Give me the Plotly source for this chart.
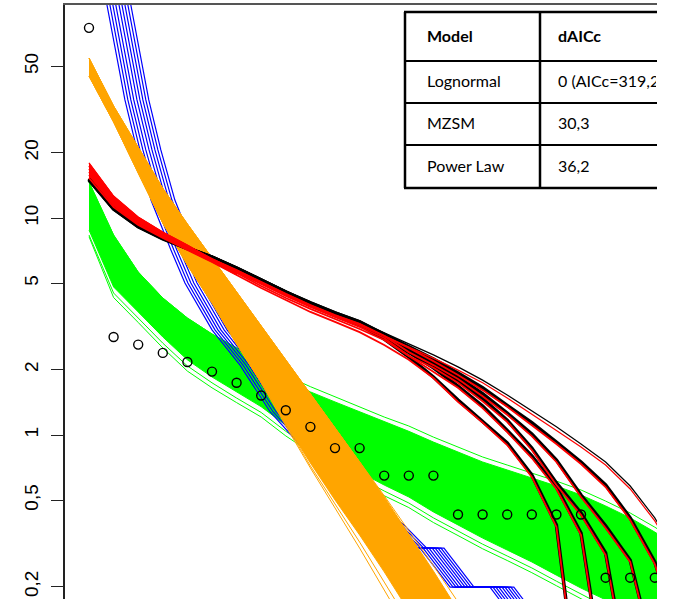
import plotly.graph_objects as go

ranks = list(range(1, 26))

# observed relative abundance (%) by rank
observed = [75.22, 2.83, 2.61, 2.39, 2.17, 1.96, 1.74, 1.52, 1.30, 1.09,
            0.87, 0.87, 0.65, 0.65, 0.65, 0.43, 0.43, 0.43, 0.43, 0.43,
            0.43, 0.22, 0.22, 0.22, 0.22]

# simulated rank-abundance runs (black / red pairs)
black_thin = [15.1, 11.1, 9.19, 8.09, 7.27, 6.61, 5.88, 5.18, 4.56, 4.06, 3.65, 3.32,
              2.95, 2.63, 2.34, 2.06, 1.79, 1.53, 1.29, 1.09, 0.909, 0.751, 0.582, 0.415, 0.265]
black_1 = [15.1, 11.1, 9.19, 8.09, 7.27, 6.61, 5.88, 5.18, 4.56, 4.06, 3.65, 3.32,
           2.92, 2.57, 2.24, 1.93, 1.65, 1.37, 1.14, 0.928, 0.751, 0.588, 0.415, 0.260, 0.114]
black_2 = [15.1, 11.1, 9.19, 8.09, 7.27, 6.61, 5.88, 5.18, 4.56, 4.06, 3.65, 3.32,
           2.89, 2.52, 2.17, 1.85, 1.55, 1.26, 1.01, 0.767, 0.529, 0.381, 0.265, 0.092]
black_3 = [15.0, 11.0, 9.15, 8.05, 7.25, 6.58, 5.85, 5.15, 4.53, 4.03, 3.62, 3.29,
           2.86, 2.46, 2.10, 1.77, 1.47, 1.17, 0.871, 0.601, 0.437, 0.286, 0.067]
black_4 = [15.2, 11.2, 9.22, 8.10, 7.28, 6.60, 5.86, 5.16, 4.53, 4.02, 3.60, 3.27,
           2.83, 2.41, 2.04, 1.68, 1.36, 1.05, 0.800, 0.576, 0.353, 0.067]
black_5 = [15.0, 11.0, 9.12, 8.02, 7.22, 6.55, 5.82, 5.10, 4.48, 3.97, 3.55, 3.21,
           2.77, 2.29, 1.85, 1.45, 1.16, 0.919, 0.654, 0.385, 0.049]

red_thin = [17.93, 12.63, 10.11, 8.62, 7.51, 6.47, 5.76, 5.07, 4.47, 3.97, 3.57, 3.25,
            2.86, 2.54, 2.26, 1.99, 1.74, 1.48, 1.25, 1.05, 0.880, 0.727, 0.564, 0.402, 0.257]
red_1 = [17.36, 12.24, 9.89, 8.44, 7.43, 6.47, 5.76, 5.07, 4.47, 3.97, 3.57, 3.25,
         2.86, 2.52, 2.19, 1.89, 1.61, 1.35, 1.11, 0.909, 0.735, 0.576, 0.406, 0.254, 0.111]
red_2 = [16.82, 11.98, 9.69, 8.35, 7.35, 6.47, 5.70, 5.02, 4.42, 3.93, 3.53, 3.21,
         2.86, 2.41, 2.10, 1.81, 1.51, 1.24, 0.989, 0.751, 0.518, 0.373, 0.260, 0.090]
red_3 = [16.29, 11.73, 9.58, 8.26, 7.27, 6.40, 5.64, 4.97, 4.37, 3.89, 3.50, 3.15,
         2.80, 2.31, 2.04, 1.74, 1.43, 1.15, 0.853, 0.588, 0.428, 0.280, 0.065]
red_4 = [15.79, 11.48, 9.38, 8.17, 7.20, 6.34, 5.58, 4.86, 4.28, 3.81, 3.42, 3.08,
         2.74, 2.31, 1.95, 1.65, 1.33, 1.03, 0.783, 0.564, 0.346, 0.065]
red_5 = [15.29, 11.24, 9.28, 8.09, 7.12, 6.27, 5.46, 4.76, 4.19, 3.69, 3.32, 2.98,
         2.60, 2.22, 1.83, 1.42, 1.14, 0.899, 0.641, 0.377, 0.048]

# green runs: dense envelope plus stray runs
green_upper = [14.65, 8.35, 5.64, 4.28, 3.46, 2.92, 2.52, 2.17, 1.79, 1.58, 1.42, 1.28,
               1.15, 1.04, 0.928, 0.835, 0.751, 0.690, 0.634, 0.582, 0.529, 0.471, 0.415, 0.357, 0.301]
green_lower = [8.80, 4.81, 3.69, 2.83, 2.22, 1.85, 1.58, 1.35, 1.11, 0.928, 0.783, 0.675,
               0.588, 0.518, 0.442, 0.385, 0.335, 0.295, 0.260, 0.226, 0.197, 0.174, 0.150, 0.126, 0.102]
green_extra_1 = [8.35, 4.51, 3.46, 2.65, 2.08, 1.74, 1.48, 1.27, 1.04, 0.870, 0.734, 0.633,
                 0.552, 0.486, 0.415, 0.361, 0.314, 0.277, 0.244, 0.212, 0.185, 0.163, 0.141, 0.118, 0.096]
green_extra_2 = [8.20, 4.30, 3.30, 2.52, 1.97, 1.65, 1.41, 1.21, 0.990, 0.830, 0.700, 0.603,
                 0.525, 0.463, 0.395, 0.344, 0.299, 0.264, 0.232, 0.202, 0.176, 0.155, 0.134, 0.112, 0.091]
green_extra_3 = [14.65, 8.35, 5.64, 4.28, 3.46, 2.92, 2.52, 2.25, 1.88, 1.67, 1.50, 1.35,
                 1.21, 1.10, 0.978, 0.880, 0.792, 0.727, 0.668, 0.613, 0.558, 0.496, 0.437, 0.376, 0.317]

# orange runs: dense envelope plus stray runs
orange_upper = [54.6, 32.8, 21.2, 13.7, 9.38, 6.54, 4.56, 3.18, 2.24, 1.55, 1.09, 0.751,
                0.518, 0.350, 0.236, 0.156, 0.104]
orange_lower = [45.1, 27.7, 16.1, 9.48, 6.07, 4.06, 2.63, 1.74, 1.12, 0.743, 0.502, 0.346,
                0.234, 0.155, 0.102]
orange_thin_1 = [45.1, 27.7, 16.1, 9.48, 6.07, 4.06, 2.63, 1.74, 1.10, 0.705, 0.461, 0.301, 0.193, 0.124]
orange_thin_2 = [45.1, 27.7, 16.1, 9.48, 6.07, 4.06, 2.63, 1.74, 1.12, 0.720, 0.481, 0.321, 0.210, 0.137]
orange_thin_3 = [54.6, 32.8, 21.2, 13.7, 9.38, 6.54, 4.56, 3.18, 2.24, 1.55, 1.09, 0.751,
                 0.507, 0.335, 0.222, 0.143]
orange_thin_4 = [54.6, 32.8, 21.2, 13.7, 9.38, 6.54, 4.56, 3.18, 2.24, 1.55, 1.09, 0.751,
                 0.525, 0.362, 0.250, 0.170, 0.115]

# blue runs: one curve, each run displaced along the rank axis
blue_rank = [1.0, 1.73, 2.46, 2.95, 3.52, 4.33, 4.90, 6.00, 7.14, 8.36, 11.49, 12.83,
             13.76, 14.46, 15.68, 17.30, 18.32]
blue_value = [239, 95.9, 35.0, 20.6, 12.1, 7.12, 5.02, 3.05, 2.10, 1.28, 0.518, 0.385,
              0.301, 0.301, 0.199, 0.199, 0.140]
blue_offsets = [0.0, 0.12, 0.24, 0.36, 0.49, 0.61, 0.73, 0.85, 0.97]

tick_values = [0.2, 0.5, 1, 2, 5, 10, 20, 50]
tick_labels = ['0,2', '0,5', '1', '2', '5', '10', '20', '50']

table_rows = [('Model', 'dAICc'),
              ('Lognormal', '0 (AICc=319,2)'),
              ('MZSM', '30,3'),
              ('Power Law', '36,2')]

W, H = 677, 599
ML, MR, MT, MB = 65, 20, 5, 0
PW, PH = W - ML - MR, H - MT - MB

GREEN, ORANGE, BLUE, RED, BLACK = '#00FF00', '#FFA500', '#0000FF', '#FF0000', '#000000'

fig = go.Figure()


def add_line(x, y, color, width):
    fig.add_trace(go.Scatter(x=x, y=y, mode='lines', line=dict(color=color, width=width),
                             hoverinfo='skip', showlegend=False))


def add_band(x_up, y_up, x_lo, y_lo, color):
    fig.add_trace(go.Scatter(x=list(x_up) + list(x_lo)[::-1], y=list(y_up) + list(y_lo)[::-1],
                             mode='lines', fill='toself', fillcolor=color,
                             line=dict(color=color, width=1), hoverinfo='skip', showlegend=False))


# green band
add_band(ranks, green_upper, ranks, green_lower, GREEN)
for g in (green_extra_1, green_extra_2, green_extra_3):
    add_line(ranks[:len(g)], g, GREEN, 1)

# blue runs
for off in blue_offsets:
    add_line([r + off for r in blue_rank], blue_value, BLUE, 1.2)

# orange band
add_band(ranks[:len(orange_upper)], orange_upper, ranks[:len(orange_lower)], orange_lower, ORANGE)
for o in (orange_thin_1, orange_thin_2, orange_thin_3, orange_thin_4):
    add_line(ranks[:len(o)], o, ORANGE, 1)

# red trunk fill, black runs, then red runs on top
add_band(ranks[:7], red_thin[:7], ranks[:7], red_5[:7], RED)
add_line(ranks[:len(black_thin)], black_thin, BLACK, 1.2)
for b in (black_1, black_2, black_3, black_4, black_5):
    add_line(ranks[:len(b)], b, BLACK, 3.5)
add_line(ranks[:len(red_thin)], red_thin, RED, 1.2)
for r in (red_1, red_2, red_3, red_4, red_5):
    add_line(ranks[:len(r)], r, RED, 1.8)

# observed points
fig.add_trace(go.Scatter(x=ranks, y=observed, mode='markers',
                         marker=dict(symbol='circle-open', size=9, color=BLACK, line=dict(width=1.4)),
                         hoverinfo='skip', showlegend=False))


def px_x(p):
    return (p - ML) / PW


def px_y(p):
    return (H - MB - p) / PH


# model comparison table
tx0, tx1, tcol = 405, 657, 540
row_edges = [12, 61, 103, 145, 188]
shapes = [dict(type='rect', xref='paper', yref='paper', x0=px_x(tx0), x1=px_x(tx1),
               y0=px_y(row_edges[-1]), y1=px_y(row_edges[0]), fillcolor='white',
               line=dict(width=0), layer='above')]
for i, ye in enumerate(row_edges):
    wdt = 2.5 if i in (0, len(row_edges) - 1) else 2
    shapes.append(dict(type='line', xref='paper', yref='paper', x0=px_x(tx0 - 1), x1=px_x(tx1),
                       y0=px_y(ye), y1=px_y(ye), line=dict(color='black', width=wdt), layer='above'))
for xe in (tx0, tcol):
    shapes.append(dict(type='line', xref='paper', yref='paper', x0=px_x(xe), x1=px_x(xe),
                       y0=px_y(row_edges[-1]), y1=px_y(row_edges[0]),
                       line=dict(color='black', width=2.5), layer='above'))

annotations = []
for i, (left, right) in enumerate(table_rows):
    yc = (row_edges[i] + row_edges[i + 1]) / 2 - 1
    if i == 0:
        left, right = '<b>%s</b>' % left, '<b>%s</b>' % right
    annotations.append(dict(xref='paper', yref='paper', x=px_x(425), y=px_y(yc), xanchor='left',
                            yanchor='middle', text=left, showarrow=False, align='left',
                            font=dict(family='Lato', size=16, color='black')))
    annotations.append(dict(xref='paper', yref='paper', x=px_x(557), y=px_y(yc), xanchor='left',
                            yanchor='middle', text=right, showarrow=False, align='left',
                            width=98, borderpad=0,
                            font=dict(family='Lato', size=16, color='black')))

fig.update_layout(
    width=W, height=H,
    margin=dict(l=ML, r=MR, t=MT, b=MB, pad=0),
    paper_bgcolor='white', plot_bgcolor='white',
    showlegend=False,
    shapes=shapes, annotations=annotations,
    xaxis=dict(range=[0.0244, 24.089], showgrid=False, zeroline=False, showticklabels=False,
               ticks='', showline=True, side='top', linecolor='#555', linewidth=1.5,
               automargin=False),
    yaxis=dict(type='log', range=[-0.7558, 1.9816], tickvals=tick_values, ticktext=tick_labels,
               tickangle=-90, ticks='outside', ticklen=12, tickwidth=1.3, tickcolor='#222',
               showline=True, linecolor='#222', linewidth=1.5, showgrid=False, zeroline=False,
               tickfont=dict(family='Liberation Sans', size=19, color='#000'),
               ticklabelstandoff=6, automargin=False),
)

fig.write_html('out.html')
